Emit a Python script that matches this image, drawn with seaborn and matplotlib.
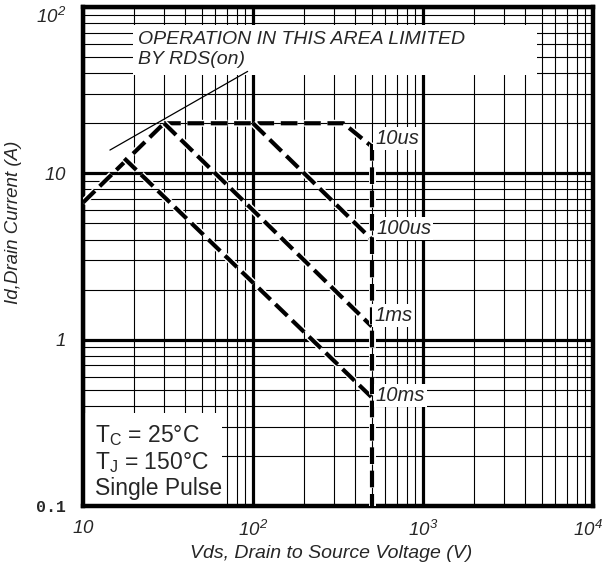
import matplotlib
matplotlib.use('Agg')
import matplotlib.pyplot as plt
import matplotlib.patheffects as pe
import matplotlib.transforms as mtransforms
from matplotlib.patches import Rectangle
from matplotlib.ticker import LogLocator, NullFormatter
import seaborn as sns

# safe operating area segments (Vds in V, Id in A)
rds_vds = [10, 30]
rds_id = [6.67, 20]
us10_vds = [30, 340, 500]
us10_id = [20, 20, 14.5]
us100_vds = [100, 500]
us100_id = [20, 4.0]
ms1_vds = [30, 500]
ms1_id = [20, 1.2]
ms10_vds = [17.5, 500]
ms10_id = [12.3, 0.45]
vmax_vds = [500, 500]
vmax_id = [15, 0.1]

# pointer line for the RDS(on) note
note_vds = [14.4, 93]
note_id = [13.8, 41]

curve_labels = ['10us', '100us', '1ms', '10ms']
curve_label_vds = [525, 530, 515, 528]
curve_label_id = [16.3, 4.66, 1.40, 0.46]

xticks = [10, 100, 1000, 10000]
xtick_labels = [r'$10$', r'$10^{2}$', r'$10^{3}$', r'$10^{4}$']
yticks = [0.1, 1, 10, 100]
ytick_labels = ['0.1', r'$1$', r'$10$', r'$10^{2}$']

sns.set_style('white')
plt.rcParams['font.family'] = ['Liberation Sans', 'DejaVu Sans']
plt.rcParams['mathtext.fontset'] = 'custom'
plt.rcParams['mathtext.rm'] = 'Liberation Sans:italic'
plt.rcParams['mathtext.it'] = 'Liberation Sans:italic'
plt.rcParams['mathtext.sf'] = 'Liberation Sans'

fig = plt.figure(figsize=(6.04, 5.71), dpi=100)
ax = fig.add_axes([83 / 604, 1 - 506 / 571, 510 / 604, 499 / 571])
ax.set_xscale('log')
ax.set_yscale('log')
ax.set_xlim(10, 10000)
ax.set_ylim(0.1, 100)

ax.xaxis.set_minor_locator(LogLocator(base=10, subs=range(2, 10)))
ax.yaxis.set_minor_locator(LogLocator(base=10, subs=range(2, 10)))
ax.xaxis.set_minor_formatter(NullFormatter())
ax.yaxis.set_minor_formatter(NullFormatter())
ax.grid(which='major', color='black', lw=2.3)
ax.grid(which='minor', color='black', lw=0.8)
for s in ax.spines.values():
    s.set_linewidth(3.2)
    s.set_color('black')
ax.tick_params(which='both', length=0)

# white patches covering the grid under the notes
ax.add_patch(Rectangle((0.098, 0.864), 0.792, 0.100, transform=ax.transAxes,
                       facecolor='white', edgecolor='none', zorder=2.5))
ax.add_patch(Rectangle((0.0, 0.0), 0.273, 0.186, transform=ax.transAxes,
                       facecolor='white', edgecolor='none', zorder=2.5))

halo = [pe.Stroke(linewidth=5, foreground='white'), pe.Normal()]
segments = [(rds_vds, rds_id), (us10_vds, us10_id), (us100_vds, us100_id),
            (ms1_vds, ms1_id), (ms10_vds, ms10_id), (vmax_vds, vmax_id)]
for vx, iy in segments:
    sns.lineplot(x=vx, y=iy, ax=ax, color='black', lw=3, estimator=None, sort=False,
                 linestyle=(0, (4, 1.6)), path_effects=halo, zorder=3)

sns.lineplot(x=note_vds, y=note_id, ax=ax, color='black', lw=0.9, estimator=None,
             sort=False, zorder=3)

for lab, vx, iy in zip(curve_labels, curve_label_vds, curve_label_id):
    ax.text(vx, iy, lab, fontsize=14.5, style='italic', va='center', ha='left', zorder=4,
            bbox=dict(facecolor='white', edgecolor='none', pad=1.5))

ax.text(0.108, 0.952, 'OPERATION IN THIS AREA LIMITED\nBY RDS(on)', transform=ax.transAxes,
        fontsize=14, style='italic', va='top', ha='left', linespacing=1.25, zorder=4)

ax.text(0.024, 0.128, r'T$_\mathsf{C}$ = 25°C', transform=ax.transAxes,
        fontsize=16.5, va='baseline', zorder=4)
ax.text(0.024, 0.074, r'T$_\mathsf{J}$ = 150°C', transform=ax.transAxes,
        fontsize=16.5, va='baseline', zorder=4)
ax.text(0.024, 0.022, 'Single Pulse', transform=ax.transAxes,
        fontsize=16.5, va='baseline', zorder=4)

ax.set_xticks(xticks)
ax.set_xticklabels(xtick_labels, fontsize=13.5)
ax.set_yticks(yticks)
ax.set_yticklabels(ytick_labels, fontsize=13.5)
ax.tick_params(axis='x', which='major', pad=10)
ax.tick_params(axis='y', which='major', pad=12)
ylabs = ax.get_yticklabels()
ylabs[0].set_fontfamily('Liberation Mono')
ylabs[0].set_fontweight('bold')
ylabs[0].set_fontsize(12)
ylabs[-1].set_va('top')
xlabs = ax.get_xticklabels()
xlabs[-1].set_transform(xlabs[-1].get_transform() +
                        mtransforms.ScaledTranslation(-5 / 100, 0, fig.dpi_scale_trans))

ax.set_xlabel('Vds, Drain to Source Voltage (V)', fontsize=14, style='italic')
ax.set_ylabel('Id,Drain Current (A)', fontsize=13.5, style='italic')
ax.xaxis.set_label_coords(0.486, -0.078)
ax.yaxis.set_label_coords(-0.12, 0.569)

fig.savefig('out.png', dpi=100)
